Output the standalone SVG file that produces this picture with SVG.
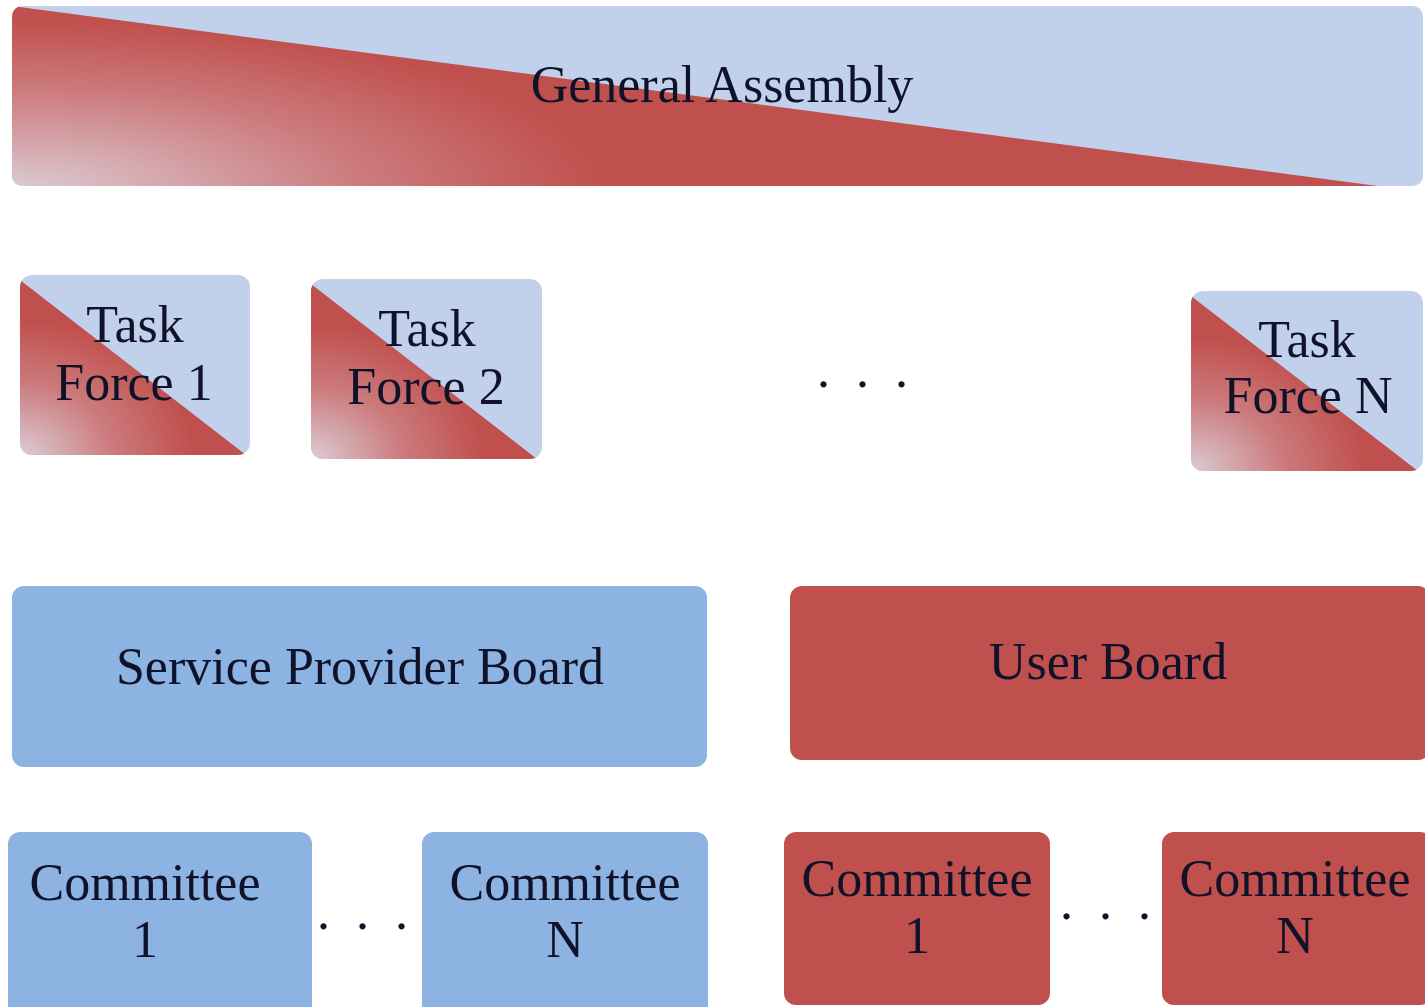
<svg xmlns="http://www.w3.org/2000/svg" width="1425" height="1007" viewBox="0 0 1425 1007">
<style>
.t{font-family:"Liberation Serif","Times New Roman",serif;font-size:52px;fill:#10122a;text-anchor:middle}
.d{font-family:"Liberation Serif","Times New Roman",serif;font-size:52px;fill:#10122a;letter-spacing:6.5px}
.lb{fill:#c1d1ec}
.mb{fill:#8db3e2}
.rd{fill:#c0504d}
</style>
<defs>
<radialGradient id="gGA" gradientUnits="userSpaceOnUse" cx="0" cy="0" r="1" gradientTransform="translate(12,190) scale(700,200)">
<stop offset="0" stop-color="#dbccd4"/>
<stop offset="0.5" stop-color="#cc7b7d"/>
<stop offset="0.85" stop-color="#c0504d"/>
</radialGradient>
<radialGradient id="gTF" gradientUnits="objectBoundingBox" cx="0" cy="1" r="0.9">
<stop offset="0" stop-color="#dbccd4"/>
<stop offset="0.45" stop-color="#cc7b7d"/>
<stop offset="0.85" stop-color="#c0504d"/>
</radialGradient>
<clipPath id="cGA"><rect x="12" y="6" width="1411" height="180" rx="10"/></clipPath>
<clipPath id="cTF1"><rect x="20" y="275" width="230" height="180" rx="12"/></clipPath>
<clipPath id="cTF2"><rect x="311" y="279" width="231" height="180" rx="12"/></clipPath>
<clipPath id="cTFN"><rect x="1191" y="291" width="232" height="180" rx="12"/></clipPath>
</defs>
<rect width="1425" height="1007" fill="#ffffff"/>

<g id="general-assembly">
<rect class="lb" x="12" y="6" width="1411" height="180" rx="10"/>
<polygon points="12,6 1378,186 12,186" fill="url(#gGA)" clip-path="url(#cGA)"/>
<text class="t" x="722" y="102">General Assembly</text>
</g>

<g id="task-force-1">
<rect class="lb" x="20" y="275" width="230" height="180" rx="12"/>
<polygon points="20,280 246,455 20,455" fill="url(#gTF)" clip-path="url(#cTF1)"/>
<text class="t" x="135" y="342">Task</text>
<text class="t" x="134" y="400">Force 1</text>
</g>

<g id="task-force-2">
<rect class="lb" x="311" y="279" width="231" height="180" rx="12"/>
<polygon points="311,284 537,459 311,459" fill="url(#gTF)" clip-path="url(#cTF2)"/>
<text class="t" x="427" y="346">Task</text>
<text class="t" x="426" y="404">Force 2</text>
</g>

<g id="task-force-dots">
<text class="d" x="817" y="387">. . .</text>
</g>

<g id="task-force-n">
<rect class="lb" x="1191" y="291" width="232" height="180" rx="12"/>
<polygon points="1191,296 1418,471 1191,471" fill="url(#gTF)" clip-path="url(#cTFN)"/>
<text class="t" x="1307" y="357">Task</text>
<text class="t" x="1308" y="413">Force N</text>
</g>

<g id="service-provider-board">
<rect class="mb" x="12" y="586" width="695" height="181" rx="12"/>
<text class="t" x="360" y="684">Service Provider Board</text>
</g>

<g id="user-board">
<rect class="rd" x="790" y="586" width="640" height="174" rx="12"/>
<text class="t" x="1108" y="679">User Board</text>
</g>

<g id="sp-committee-1">
<rect class="mb" x="8" y="832" width="304" height="190" rx="12"/>
<text class="t" x="145" y="900">Committee</text>
<text class="t" x="145" y="957">1</text>
</g>

<g id="sp-committee-dots">
<text class="d" x="317" y="929">. . .</text>
</g>

<g id="sp-committee-n">
<rect class="mb" x="422" y="832" width="286" height="190" rx="12"/>
<text class="t" x="565" y="900">Committee</text>
<text class="t" x="565" y="957">N</text>
</g>

<g id="user-committee-1">
<rect class="rd" x="784" y="832" width="266" height="173" rx="12"/>
<text class="t" x="917" y="896">Committee</text>
<text class="t" x="917" y="953">1</text>
</g>

<g id="user-committee-dots">
<text class="d" x="1060" y="919">. . .</text>
</g>

<g id="user-committee-n">
<rect class="rd" x="1162" y="832" width="270" height="173" rx="12"/>
<text class="t" x="1295" y="896">Committee</text>
<text class="t" x="1295" y="953">N</text>
</g>

<g id="connectors"/>
</svg>
